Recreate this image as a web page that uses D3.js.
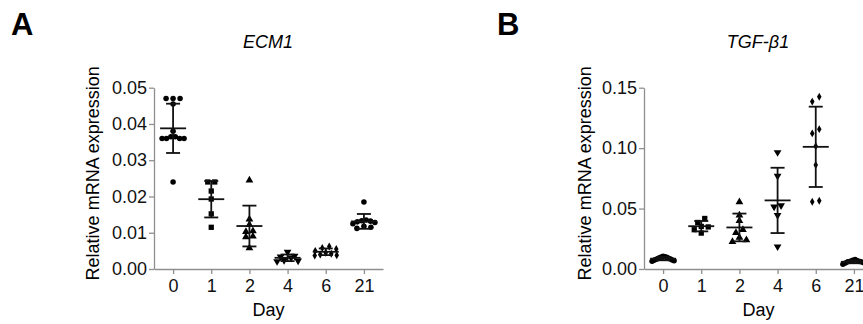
<!DOCTYPE html>
<html>
<head>
<meta charset="utf-8">
<script src="https://cdn.jsdelivr.net/npm/d3@7"></script>
<style>
  body { margin: 0; background: #fff; }
  svg { display: block; font-family: "Liberation Sans", Arial, sans-serif; }
  .axis path, .axis line { stroke: #8f8f8f; stroke-width: 1.3px; }
  .axis text { fill: #111; font-size: 18px; font-family: "Liberation Sans", Arial, sans-serif; }
</style>
</head>
<body>
<div id="container"></div>
<script>
// categories
var days = ["0", "1", "2", "4", "6", "21"];
// one symbol type per day, as in the figure
var shapes = ["circle", "square", "triangle", "triangleDown", "diamond", "circle"];

// ECM1, relative mRNA expression, one array per day
var ecm1 = [
    [0.047, 0.047, 0.047, 0.0455, 0.038, 0.0365, 0.036, 0.036, 0.036, 0.036, 0.0365, 0.024],
    [0.024, 0.024, 0.0215, 0.0193, 0.0152, 0.0115],
    [0.0245, 0.0137, 0.0122, 0.0105, 0.0103, 0.009, 0.0088, 0.0058],
    [0.0047, 0.0036, 0.0034, 0.0031, 0.0024, 0.0021, 0.0023],
    [0.0062, 0.0058, 0.0055, 0.005, 0.0045, 0.0042, 0.004, 0.0038, 0.0037],
    [0.0185, 0.0135, 0.0133, 0.0132, 0.013, 0.0128, 0.0125, 0.0118, 0.0115, 0.0112]
];
// TGF-beta1
var tgfb1 = [
    [0.0105, 0.0102, 0.0100, 0.0098, 0.0092, 0.0088, 0.0085, 0.0082, 0.0078, 0.0075, 0.0072, 0.0068, 0.0065],
    [0.0418, 0.0385, 0.0352, 0.0348, 0.0325, 0.0297],
    [0.0555, 0.0445, 0.0400, 0.0325, 0.030, 0.026, 0.024, 0.0225],
    [0.0965, 0.077, 0.0525, 0.0515, 0.0445, 0.0185],
    [0.1425, 0.1385, 0.1157, 0.1122, 0.1015, 0.086, 0.0565, 0.0557],
    [0.0078, 0.0072, 0.0068, 0.0065, 0.0062, 0.006, 0.0055, 0.005, 0.0045, 0.004]
];
var ecm1Ticks = [0, 0.01, 0.02, 0.03, 0.04, 0.05];
var tgfb1Ticks = [0, 0.05, 0.10, 0.15];

var width = 863, height = 324;
var svg = d3.select("#container").append("svg")
    .attr("width", width)
    .attr("height", height);

var w = 229, h = 181.3;

function symbolPath(name) {
    var sym = {
        circle: d3.symbol(d3.symbolCircle, 24),
        square: d3.symbol(d3.symbolSquare, 28),
        triangle: d3.symbol(d3.symbolTriangle, 26),
        triangleDown: d3.symbol(d3.symbolTriangle, 26),
        diamond: d3.symbol(d3.symbolDiamond, 18)
    };
    return sym[name]();
}

// points are grouped into rows of close values, each row spread
// sideways (centre first, then right/left) and squeezed when too wide
function swarm(vals, y, step, rowH, maxHalf) {
    var pts = vals.map(function(v) { return {v: v, py: y(v), dx: 0}; });
    var sorted = pts.slice().sort(function(a, b) { return a.py - b.py; });
    var rows = [], cur = null;
    sorted.forEach(function(p) {
        if (!cur || p.py - cur.start > rowH) {
            cur = {start: p.py, pts: []};
            rows.push(cur);
        }
        cur.pts.push(p);
    });
    rows.forEach(function(r) {
        var n = r.pts.length;
        var s = n > 1 ? Math.min(step, 2 * maxHalf / (n - 1)) : 0;
        var slots = d3.range(n).map(function(j) { return (j - (n - 1) / 2) * s; });
        slots.sort(function(a, b) { return Math.abs(a) - Math.abs(b) || b - a; });
        r.pts.forEach(function(p, j) { p.dx = slots[j]; });
    });
    return pts;
}

function drawPanel(left, top, letter, letterX, title, titleX, yTitleX, data, ticks) {
    var g = svg.append("g").attr("transform", "translate(" + left + "," + top + ")");

    var x = d3.scalePoint().domain(days).range([0, w]).padding(0.5);
    var y = d3.scaleLinear().domain([0, ticks[ticks.length - 1]]).range([h, 0]);

    g.append("g")
        .attr("class", "axis")
        .attr("transform", "translate(0," + h + ")")
        .call(d3.axisBottom(x).tickSize(5).tickSizeOuter(0).tickPadding(5));

    g.append("g")
        .attr("class", "axis")
        .call(d3.axisLeft(y).tickValues(ticks).tickFormat(d3.format(".2f")).tickSize(5).tickSizeOuter(0).tickPadding(2));

    data.forEach(function(vals, i) {
        var cx = x(days[i]);
        var m = d3.mean(vals), sd = d3.deviation(vals);
        var pts = swarm(vals, y, 7, 5, 11);

        g.selectAll(".pt" + i)
            .data(pts)
            .enter().append("path")
            .attr("d", symbolPath(shapes[i]))
            .attr("transform", function(d) {
                return "translate(" + (cx + d.dx) + "," + d.py + ")" + (shapes[i] === "triangleDown" ? " rotate(180)" : "");
            })
            .attr("fill", "#000");

        var eb = g.append("g").attr("stroke", "#111").attr("stroke-width", 1.8);
        eb.append("line").attr("x1", cx).attr("x2", cx).attr("y1", y(m - sd)).attr("y2", y(m + sd));
        eb.append("line").attr("x1", cx - 7).attr("x2", cx + 7).attr("y1", y(m + sd)).attr("y2", y(m + sd));
        eb.append("line").attr("x1", cx - 7).attr("x2", cx + 7).attr("y1", y(m - sd)).attr("y2", y(m - sd));
        eb.append("line").attr("x1", cx - 13).attr("x2", cx + 13).attr("y1", y(m)).attr("y2", y(m));
    });

    svg.append("text")
        .attr("x", letterX).attr("y", 35)
        .attr("font-size", 31).attr("font-weight", "bold")
        .text(letter);

    svg.append("text")
        .attr("x", titleX).attr("y", 48)
        .attr("text-anchor", "middle")
        .attr("font-size", 18).attr("font-style", "italic")
        .text(title);

    svg.append("text")
        .attr("transform", "translate(" + yTitleX + "," + (top + h / 2 - 5) + ") rotate(-90)")
        .attr("text-anchor", "middle")
        .attr("dy", "0.35em")
        .attr("font-size", 18)
        .text("Relative mRNA expression");

    svg.append("text")
        .attr("x", left + w / 2).attr("y", 316)
        .attr("text-anchor", "middle")
        .attr("font-size", 18)
        .text("Day");
}

drawPanel(154, 87.7, "A", 11, "ECM1", 268, 93, ecm1, ecm1Ticks);
drawPanel(644, 87.7, "B", 497, "TGF-\u03b21", 758, 585, tgfb1, tgfb1Ticks);
</script>
</body>
</html>
